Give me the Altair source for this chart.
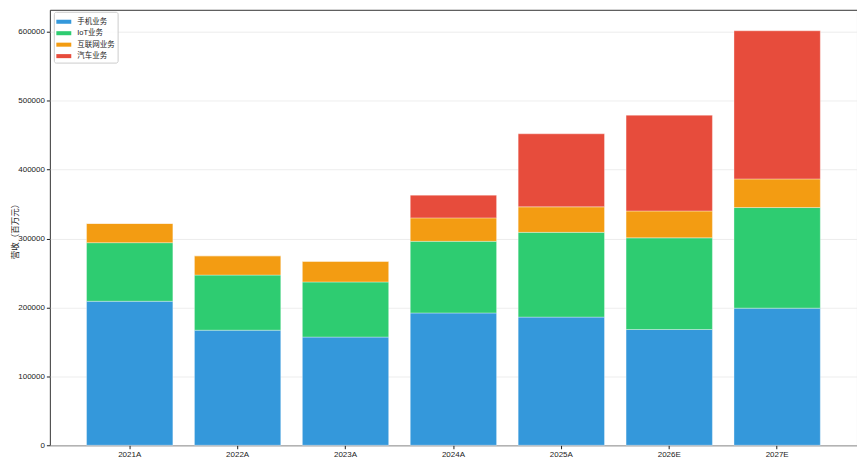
import altair as alt
import pandas as pd

years = ["2021A", "2022A", "2023A", "2024A", "2025A", "2026E", "2027E"]
series = ["手机业务", "IoT业务", "互联网业务", "汽车业务"]
colors = ["#3498db", "#2ecc71", "#f39c12", "#e74c3c"]

phone = [209000, 167000, 157000, 192000, 186000, 168000, 199000]
iot = [85000, 80000, 80000, 104000, 123000, 133000, 146000]
internet = [28000, 28000, 30000, 34000, 37000, 39000, 41500]
auto = [0, 0, 0, 33000, 106000, 139000, 215000]

y_ticks = [0, 100000, 200000, 300000, 400000, 500000, 600000]

rows = []
for s_i, (name, vals) in enumerate(zip(series, [phone, iot, internet, auto])):
    for y, v in zip(years, vals):
        rows.append({"year": y, "series": name, "order": s_i, "value": v})
df = pd.DataFrame(rows)

FONT = "'Liberation Sans', 'Noto Sans CJK SC', sans-serif"

chart = alt.Chart(df).mark_bar(
    stroke="white", strokeWidth=0.5, strokeOpacity=0.7
).encode(
    x=alt.X(
        "year:N", sort=years, title=None,
        scale=alt.Scale(paddingInner=0.2, paddingOuter=0.34),
        axis=alt.Axis(labelAngle=0, labelFontSize=8, labelColor="#222",
                      tickSize=3.5, tickColor="#222", labelPadding=2,
                      domain=False, grid=False),
    ),
    y=alt.Y(
        "value:Q", stack="zero", title="营收（百万元）",
        scale=alt.Scale(domain=[0, 632000], nice=False, zero=True),
        axis=alt.Axis(values=y_ticks, format="d", labelFontSize=8, labelColor="#222",
                      tickSize=3.5, tickColor="#222", labelPadding=2,
                      domain=False, grid=True, gridColor="#e8e8e8", gridWidth=0.8,
                      titleFont="'Noto Sans CJK SC', sans-serif",
                      titleFontSize=8.5, titleFontWeight="normal", titleColor="#222",
                      titleAngle=270, titleX=-35, titleY=220,
                      titleAlign="center", titleBaseline="middle", titleLimit=300),
    ),
    color=alt.Color(
        "series:N", sort=series,
        scale=alt.Scale(domain=series, range=colors),
        legend=alt.Legend(
            title=None, orient="none", legendX=4, legendY=2,
            symbolType="M-1,-0.27H1V0.27H-1Z", symbolSize=225,
            symbolStrokeWidth=0, symbolOpacity=1,
            labelFontSize=7.5, labelColor="#222", labelOffset=6,
            rowPadding=0.5, padding=2.5,
            strokeColor="#cccccc", cornerRadius=2,
            fillColor="rgba(255,255,255,0.85)",
        ),
    ),
    order=alt.Order("order:Q", sort="ascending"),
).properties(
    width=810, height=437,
    padding={"left": 42, "top": 1, "right": 0, "bottom": 14},
    autosize=alt.AutoSizeParams(type="none"),
).configure(
    font=FONT,
).configure_view(
    stroke="#333333", strokeWidth=1,
)

chart.save("out.html", embed_options={"renderer": "svg", "actions": False})
